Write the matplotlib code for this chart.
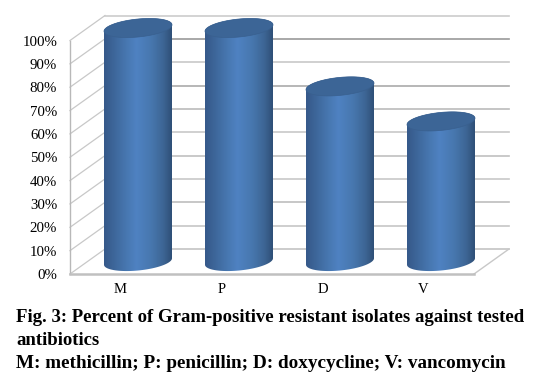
import matplotlib
matplotlib.use('Agg')
import matplotlib.pyplot as plt
import numpy as np
from matplotlib.colors import LinearSegmentedColormap
from matplotlib.patches import PathPatch, Polygon
from matplotlib.path import Path
from matplotlib.transforms import IdentityTransform

# values
drugs = ['M', 'P', 'D', 'V']
percent = [100, 100, 75, 60]
ticks = list(range(0, 101, 10))
tick_labels = ['%d%%' % t for t in ticks]
caption = ['Fig. 3: Percent of Gram-positive resistant isolates against tested',
           'antibiotics',
           'M: methicillin; P: penicillin; D: doxycycline; V: vancomycin']
caption_base = [322, 345, 368]
caption_size = [13.5, 13.5, 13.75]

W, H = 550, 382
DEPTH_X, DEPTH_Y = 35, 25
plt.rcParams['font.family'] = ['Liberation Serif', 'DejaVu Serif']

fig = plt.figure(figsize=(W / 100, H / 100), dpi=100)
ax = fig.add_axes([70 / W, (H - 274) / H, 404 / W, 233.5 / H])
ax.set_zorder(1)
ax.set_xlim(-0.5, 3.5)
ax.set_ylim(0, 100)
ax.patch.set_visible(False)

grid_colors = ['#c4c4c4', '#c6c6c6', '#bdbdbd', '#c8c8c8', '#c0c0c0', '#c8c8c8',
               '#bbbbbb', '#aaaaaa', '#c8c8c8', '#999999', '#cccccc']


def disp(x, y):
    return ax.transData.transform((x, y))


def wall_line(p, q, color, lw=1.2):
    fig.add_artist(plt.Line2D([p[0] / W, q[0] / W], [p[1] / H, q[1] / H], color=color,
                              lw=lw, zorder=0.5, transform=fig.transFigure))


depth = np.array([DEPTH_X, DEPTH_Y])
for t, c in zip(ticks, grid_colors):
    front = disp(-0.5, t)
    end = disp(3.5, t)
    wall_line(front, front + depth, '#c8c8c8', 0.9)
    wall_line(front + depth, end + depth, c)
wall_line(disp(3.5, 0), disp(3.5, 0) + depth, '#c8c8c8', 1)

ax.set_xticks(range(len(drugs)))
ax.set_xticklabels(drugs, fontsize=10.5)
ax.set_yticks(ticks)
ax.set_yticklabels(tick_labels, fontsize=10.7)
ax.tick_params(axis='both', length=0)
ax.tick_params(axis='y', pad=9.2)
ax.tick_params(axis='x', pad=6.5)
for s in ['top', 'right']:
    ax.spines[s].set_visible(False)
ax.spines['left'].set_color('#b8b8b8')
ax.spines['left'].set_linewidth(1)
ax.spines['bottom'].set_color('#c0c0c0')
ax.spines['bottom'].set_linewidth(1.8)

body_cmap = LinearSegmentedColormap.from_list('body', [
    (0.0, '#36598a'), (0.12, '#3c6497'), (0.3, '#4675ad'), (0.48, '#4f82c2'),
    (0.7, '#4777ae'), (0.88, '#3d6594'), (1.0, '#2f5078')])
grad = np.linspace(0, 1, 120).reshape(1, -1)

half_w, half_h, tilt = 34, 9, 3.2
theta = np.linspace(0, 2 * np.pi, 121)


def ellipse(cx, cy, th):
    return np.column_stack([cx + half_w * np.cos(th),
                            cy + half_h * np.sin(th) + tilt * np.cos(th)])


for i, v in enumerate(percent):
    base = disp(i, 0) + depth / 2
    top = disp(i, v) + depth / 2
    lower = ellipse(base[0], base[1], np.linspace(np.pi, 2 * np.pi, 60))
    upper = ellipse(top[0], top[1], np.linspace(0, np.pi, 60))
    outline = np.vstack([lower, upper])
    clip = Polygon(outline, closed=True, transform=IdentityTransform(), fc='none', ec='none', clip_on=False)
    ax.add_patch(clip)
    im = ax.imshow(grad, cmap=body_cmap, aspect='auto', interpolation='bilinear',
                   extent=(base[0] - half_w, base[0] + half_w, base[1] - half_h - 5, top[1] + half_h + 5),
                   transform=IdentityTransform(), zorder=3)
    im.set_clip_box(fig.bbox)
    im.set_clip_path(clip)
    cap = PathPatch(Path(ellipse(top[0], top[1], theta), closed=True),
                    fc='#3c6596', ec='#39608f', lw=0.5, zorder=4, transform=IdentityTransform(),
                    clip_on=False)
    ax.add_patch(cap)

ax.set_xlim(-0.5, 3.5)
ax.set_ylim(0, 100)

for line, y, size in zip(caption, caption_base, caption_size):
    fig.text(16 / W, (H - y) / H, line, fontsize=size, fontweight='bold', va='baseline', color='#000000')

fig.savefig('out.png', dpi=100)
